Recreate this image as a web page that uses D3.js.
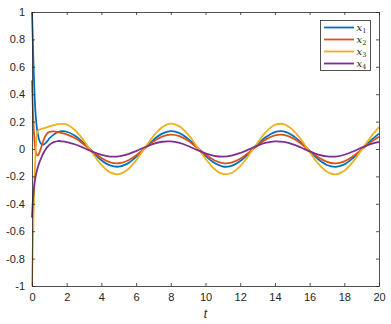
<!DOCTYPE html>
<html>
<head>
<meta charset="utf-8">
<script src="https://cdn.jsdelivr.net/npm/d3@7"></script>
<style>
  body { margin: 0; background: #fff; }
  svg { display: block; }
</style>
</head>
<body>
<div id="chart"></div>
<script>
// time samples, dense at start for the transient
var tVals = [0, 0.05, 0.1, 0.15, 0.2, 0.25, 0.3, 0.35, 0.4, 0.5, 0.6, 0.7, 0.8, 0.9, 1.0, 1.25, 1.5, 1.75,
  2.0, 2.5, 3.0, 3.5, 4.0, 4.5, 5.0, 5.5, 6.0, 6.5, 7.0, 7.5, 8.0, 8.5, 9.0, 9.5, 10.0,
  10.5, 11.0, 11.5, 12.0, 12.5, 13.0, 13.5, 14.0, 14.5, 15.0, 15.5, 16.0, 16.5, 17.0, 17.5,
  18.0, 18.5, 19.0, 19.5, 20.0];

var x1 = [1.0, 0.78, 0.56, 0.39, 0.27, 0.19, 0.135, 0.1, 0.072, 0.042, 0.032, 0.035, 0.045, 0.06, 0.077, 0.105, 0.124, 0.13,
  0.126, 0.095, 0.041, -0.023, -0.082, -0.120, -0.129, -0.107, -0.058, 0.005, 0.067, 0.112, 0.130, 0.116, 0.074, 0.014, -0.050,
  -0.101, -0.128, -0.123, -0.088, -0.032, 0.033, 0.089, 0.124, 0.128, 0.101, 0.049, -0.015, -0.075, -0.117, -0.130,
  -0.112, -0.066, -0.004, 0.059, 0.112];

var x2 = [0.5, 0.3, 0.15, 0.05, -0.01, -0.035, -0.045, -0.045, -0.035, 0.0, 0.04, 0.075, 0.1, 0.117, 0.125, 0.128, 0.123, 0.116,
  0.107, 0.078, 0.033, -0.019, -0.066, -0.097, -0.104, -0.086, -0.047, 0.004, 0.054, 0.090, 0.105, 0.094, 0.060, 0.011, -0.040,
  -0.082, -0.103, -0.099, -0.071, -0.026, 0.026, 0.072, 0.100, 0.103, 0.081, 0.040, -0.012, -0.061, -0.094, -0.105,
  -0.090, -0.053, -0.003, 0.048, 0.090];

var x3 = [-1.0, -0.7, -0.42, -0.2, -0.04, 0.07, 0.12, 0.135, 0.14, 0.145, 0.148, 0.152, 0.156, 0.16, 0.165, 0.174, 0.181, 0.183,
  0.179, 0.135, 0.058, -0.033, -0.116, -0.171, -0.184, -0.152, -0.083, 0.007, 0.095, 0.159, 0.185, 0.165, 0.105, 0.019, -0.071,
  -0.144, -0.182, -0.175, -0.125, -0.045, 0.046, 0.127, 0.176, 0.182, 0.143, 0.070, -0.021, -0.107, -0.166, -0.185,
  -0.159, -0.093, -0.005, 0.084, 0.160];

var x4 = [-0.5, -0.38, -0.3, -0.245, -0.205, -0.175, -0.15, -0.128, -0.108, -0.075, -0.045, -0.02, 0.0, 0.017, 0.03, 0.05, 0.058, 0.056,
  0.050, 0.033, 0.007, -0.021, -0.043, -0.055, -0.054, -0.039, -0.015, 0.013, 0.038, 0.053, 0.055, 0.044, 0.022, -0.006, -0.032,
  -0.050, -0.056, -0.049, -0.029, -0.003, 0.025, 0.046, 0.056, 0.052, 0.036, 0.011, -0.017, -0.041, -0.054, -0.055,
  -0.042, -0.018, 0.010, 0.035, 0.052];

var seriesNames = ["1", "2", "3", "4"];
var seriesColors = ["#0072BD", "#D95319", "#EDB120", "#7E2F8E"];
var xTicks = [0, 2, 4, 6, 8, 10, 12, 14, 16, 18, 20];
var yTicks = [-1, -0.8, -0.6, -0.4, -0.2, 0, 0.2, 0.4, 0.6, 0.8, 1];

var W = 391, H = 324;
var mLeft = 32, mRight = 379, mTop = 12, mBottom = 286;

var svg = d3.select("#chart").append("svg")
    .attr("width", W)
    .attr("height", H);

var xScale = d3.scaleLinear().domain([0, 20]).range([mLeft, mRight]);
var yScale = d3.scaleLinear().domain([-1, 1]).range([mBottom, mTop]);

var axisColor = "#262626";
var tickFont = "'Liberation Sans', Arial, sans-serif";

// series lines
var allSeries = [x1, x2, x3, x4];
var line = d3.line()
    .x(function (d) { return xScale(d[0]); })
    .y(function (d) { return yScale(d[1]); })
    .curve(d3.curveCatmullRom.alpha(0.5));

var plot = svg.append("g");
allSeries.forEach(function (vals, i) {
  var pts = tVals.map(function (t, j) { return [t, vals[j]]; });
  plot.append("path")
      .attr("d", line(pts))
      .attr("fill", "none")
      .attr("stroke", seriesColors[i])
      .attr("stroke-width", 1.8)
      .attr("stroke-linejoin", "round");
});

// axes (MATLAB style box with inward ticks)
function fmt(v) { return String(+v.toFixed(1)); }

var xAxisB = d3.axisBottom(xScale).tickValues(xTicks).tickSizeInner(-3).tickSizeOuter(0).tickPadding(7).tickFormat(fmt);
var xAxisT = d3.axisTop(xScale).tickValues(xTicks).tickSizeInner(-3).tickSizeOuter(0).tickFormat("");
var yAxisL = d3.axisLeft(yScale).tickValues(yTicks).tickSizeInner(-3).tickSizeOuter(0).tickPadding(7).tickFormat(fmt);
var yAxisR = d3.axisRight(yScale).tickValues(yTicks).tickSizeInner(-3).tickSizeOuter(0).tickFormat("");

svg.append("g").attr("transform", "translate(0," + mBottom + ")").call(xAxisB);
svg.append("g").attr("transform", "translate(0," + mTop + ")").call(xAxisT);
svg.append("g").attr("transform", "translate(" + mLeft + ",0)").call(yAxisL);
svg.append("g").attr("transform", "translate(" + mRight + ",0)").call(yAxisR);

svg.selectAll(".domain").attr("stroke", axisColor).attr("stroke-width", 0.8);
svg.selectAll(".tick line").attr("stroke", axisColor).attr("stroke-width", 0.8);
svg.selectAll(".tick text")
    .style("font-family", tickFont)
    .style("font-size", "11px")
    .attr("fill", axisColor);

// x label
svg.append("text")
    .attr("x", (mLeft + mRight) / 2)
    .attr("y", 318)
    .attr("text-anchor", "middle")
    .style("font-family", tickFont)
    .style("font-size", "12px")
    .style("font-style", "italic")
    .attr("fill", axisColor)
    .text("t");

// legend
var lg = svg.append("g");
lg.append("rect")
    .attr("x", 320.5).attr("y", 20.5)
    .attr("width", 50).attr("height", 50)
    .attr("fill", "#fff")
    .attr("stroke", axisColor)
    .attr("stroke-width", 0.8);

seriesNames.forEach(function (n, i) {
  var yy = 27.5 + i * 12;
  lg.append("line")
      .attr("x1", 324).attr("x2", 354)
      .attr("y1", yy).attr("y2", yy)
      .attr("stroke", seriesColors[i])
      .attr("stroke-width", 1.8);
  var txt = lg.append("text")
      .attr("x", 356.5)
      .attr("y", yy + 3)
      .style("font-family", "'DejaVu Serif', 'Liberation Serif', serif")
      .style("font-size", "10px")
      .attr("fill", axisColor);
  txt.append("tspan").style("font-style", "italic").text("x");
  txt.append("tspan").attr("dy", 2.5).style("font-size", "6.5px").text(n);
});
</script>
</body>
</html>
